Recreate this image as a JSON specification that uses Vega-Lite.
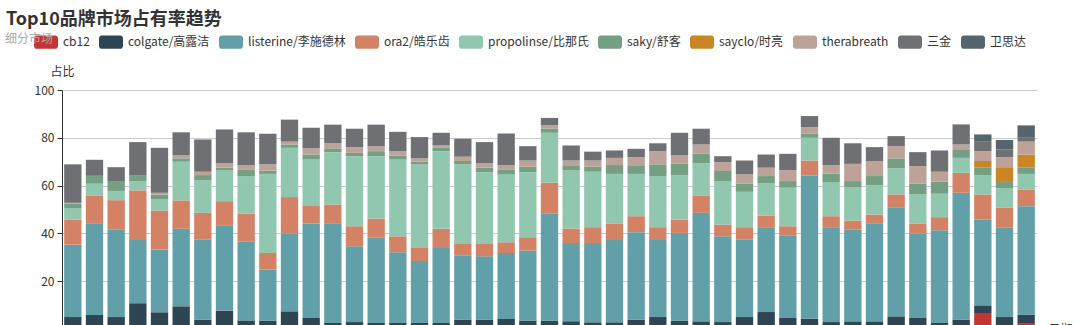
{
  "$schema": "https://vega.github.io/schema/vega-lite/v6.json",
  "width": 975,
  "height": 239,
  "autosize": {"type": "none"},
  "padding": {"left": 62, "top": 90, "right": 43, "bottom": 0},
  "background": "white",
  "title": {"text": "Top10品牌市场占有率趋势", "anchor": "start", "fontSize": 18, "fontWeight": "bold", "color": "#333", "dx": 1, "offset": 1, "font": "Noto Sans CJK SC"},
  "data": {"values": [
    {"period":"P01","cb12":0,"colgate/高露洁":5.0,"listerine/李施德林":30.3,"ora2/皓乐齿":10.5,"propolinse/比那氏":4.6,"saky/舒客":2.0,"sayclo/时亮":0,"therabreath":0.4,"三金":16.1,"卫思达":0},
    {"period":"P02","cb12":0,"colgate/高露洁":5.9,"listerine/李施德林":38.1,"ora2/皓乐齿":11.9,"propolinse/比那氏":4.9,"saky/舒客":3.3,"sayclo/时亮":0,"therabreath":0,"三金":6.7,"卫思达":0},
    {"period":"P03","cb12":0,"colgate/高露洁":5.0,"listerine/李施德林":36.6,"ora2/皓乐齿":12.3,"propolinse/比那氏":3.8,"saky/舒客":4.2,"sayclo/时亮":0,"therabreath":0,"三金":5.8,"卫思达":0},
    {"period":"P04","cb12":0,"colgate/高露洁":10.8,"listerine/李施德林":26.4,"ora2/皓乐齿":20.8,"propolinse/比那氏":3.9,"saky/舒客":2.5,"sayclo/时亮":0,"therabreath":0,"三金":13.8,"卫思达":0},
    {"period":"P05","cb12":0,"colgate/高露洁":7.0,"listerine/李施德林":26.2,"ora2/皓乐齿":16.4,"propolinse/比那氏":4.6,"saky/舒客":2.0,"sayclo/时亮":0,"therabreath":0.8,"三金":18.8,"卫思达":0},
    {"period":"P06","cb12":0,"colgate/高露洁":9.5,"listerine/李施德林":32.5,"ora2/皓乐齿":11.8,"propolinse/比那氏":16.2,"saky/舒客":1.4,"sayclo/时亮":0,"therabreath":1.4,"三金":9.5,"卫思达":0},
    {"period":"P07","cb12":0,"colgate/高露洁":3.9,"listerine/李施德林":33.5,"ora2/皓乐齿":11.2,"propolinse/比那氏":13.6,"saky/舒客":2.2,"sayclo/时亮":0,"therabreath":1.4,"三金":13.5,"卫思达":0},
    {"period":"P08","cb12":0,"colgate/高露洁":7.7,"listerine/李施德林":35.7,"ora2/皓乐齿":10.1,"propolinse/比那氏":12.8,"saky/舒客":1.2,"sayclo/时亮":0,"therabreath":1.8,"三金":14.2,"卫思达":0},
    {"period":"P09","cb12":0,"colgate/高露洁":3.6,"listerine/李施德林":32.9,"ora2/皓乐齿":11.7,"propolinse/比那氏":15.8,"saky/舒客":2.8,"sayclo/时亮":0,"therabreath":1.8,"三金":13.7,"卫思达":0},
    {"period":"P10","cb12":0,"colgate/高露洁":3.5,"listerine/李施德林":21.4,"ora2/皓乐齿":6.9,"propolinse/比那氏":33.1,"saky/舒客":1.4,"sayclo/时亮":0,"therabreath":2.6,"三金":12.8,"卫思达":0},
    {"period":"P11","cb12":0,"colgate/高露洁":7.4,"listerine/李施德林":32.4,"ora2/皓乐齿":15.4,"propolinse/比那氏":20.6,"saky/舒客":1.4,"sayclo/时亮":0,"therabreath":1.2,"三金":9.2,"卫思达":0},
    {"period":"P12","cb12":0,"colgate/高露洁":4.6,"listerine/李施德林":39.5,"ora2/皓乐齿":7.7,"propolinse/比那氏":19.1,"saky/舒客":2.1,"sayclo/时亮":0,"therabreath":2.6,"三金":8.6,"卫思达":0},
    {"period":"P13","cb12":0,"colgate/高露洁":2.5,"listerine/李施德林":41.5,"ora2/皓乐齿":8.1,"propolinse/比那氏":21.9,"saky/舒客":1.6,"sayclo/时亮":0,"therabreath":2.2,"三金":7.7,"卫思达":0},
    {"period":"P14","cb12":0,"colgate/高露洁":2.9,"listerine/李施德林":31.7,"ora2/皓乐齿":8.4,"propolinse/比那氏":29.3,"saky/舒客":1.4,"sayclo/时亮":0,"therabreath":2.4,"三金":7.7,"卫思达":0},
    {"period":"P15","cb12":0,"colgate/高露洁":2.5,"listerine/李施德林":35.9,"ora2/皓乐齿":7.8,"propolinse/比那氏":26.1,"saky/舒客":2.1,"sayclo/时亮":0,"therabreath":2.1,"三金":9.0,"卫思达":0},
    {"period":"P16","cb12":0,"colgate/高露洁":2.5,"listerine/李施德林":29.6,"ora2/皓乐齿":6.7,"propolinse/比那氏":32.1,"saky/舒客":1.7,"sayclo/时亮":0,"therabreath":1.8,"三金":8.1,"卫思达":0},
    {"period":"P17","cb12":0,"colgate/高露洁":2.5,"listerine/李施德林":25.9,"ora2/皓乐齿":5.5,"propolinse/比那氏":35.0,"saky/舒客":1.1,"sayclo/时亮":0,"therabreath":1.4,"三金":8.9,"卫思达":0},
    {"period":"P18","cb12":0,"colgate/高露洁":2.5,"listerine/李施德林":31.4,"ora2/皓乐齿":8.0,"propolinse/比那氏":32.5,"saky/舒客":1.4,"sayclo/时亮":0,"therabreath":1.0,"三金":5.3,"卫思达":0},
    {"period":"P19","cb12":0,"colgate/高露洁":3.9,"listerine/李施德林":27.0,"ora2/皓乐齿":4.7,"propolinse/比那氏":33.3,"saky/舒客":1.4,"sayclo/时亮":0,"therabreath":1.8,"三金":7.5,"卫思达":0},
    {"period":"P20","cb12":0,"colgate/高露洁":3.9,"listerine/李施德林":26.5,"ora2/皓乐齿":5.2,"propolinse/比那氏":30.0,"saky/舒客":1.9,"sayclo/时亮":0,"therabreath":1.8,"三金":8.9,"卫思达":0},
    {"period":"P21","cb12":0,"colgate/高露洁":4.2,"listerine/李施德林":27.6,"ora2/皓乐齿":4.5,"propolinse/比那氏":28.4,"saky/舒客":2.1,"sayclo/时亮":0,"therabreath":1.8,"三金":13.2,"卫思达":0},
    {"period":"P22","cb12":0,"colgate/高露洁":3.5,"listerine/李施德林":29.3,"ora2/皓乐齿":5.6,"propolinse/比那氏":27.2,"saky/舒客":2.3,"sayclo/时亮":0,"therabreath":2.6,"三金":6.0,"卫思达":0},
    {"period":"P23","cb12":0,"colgate/高露洁":3.5,"listerine/李施德林":44.7,"ora2/皓乐齿":13.0,"propolinse/比那氏":20.9,"saky/舒客":1.8,"sayclo/时亮":0,"therabreath":1.4,"三金":3.0,"卫思达":0},
    {"period":"P24","cb12":0,"colgate/高露洁":3.2,"listerine/李施德林":32.8,"ora2/皓乐齿":6.0,"propolinse/比那氏":24.3,"saky/舒客":1.9,"sayclo/时亮":0,"therabreath":2.3,"三金":6.3,"卫思达":0},
    {"period":"P25","cb12":0,"colgate/高露洁":2.8,"listerine/李施德林":33.2,"ora2/皓乐齿":6.6,"propolinse/比那氏":23.2,"saky/舒客":2.1,"sayclo/时亮":0,"therabreath":2.6,"三金":3.7,"卫思达":0},
    {"period":"P26","cb12":0,"colgate/高露洁":2.8,"listerine/李施德林":34.4,"ora2/皓乐齿":6.8,"propolinse/比那氏":20.9,"saky/舒客":3.7,"sayclo/时亮":0,"therabreath":3.0,"三金":3.1,"卫思达":0},
    {"period":"P27","cb12":0,"colgate/高露洁":3.9,"listerine/李施德林":36.6,"ora2/皓乐齿":6.7,"propolinse/比那氏":17.7,"saky/舒客":3.3,"sayclo/时亮":0,"therabreath":3.7,"三金":3.5,"卫思达":0},
    {"period":"P28","cb12":0,"colgate/高露洁":5.0,"listerine/李施德林":32.2,"ora2/皓乐齿":5.4,"propolinse/比那氏":21.4,"saky/舒客":4.9,"sayclo/时亮":0,"therabreath":5.5,"三金":3.3,"卫思达":0},
    {"period":"P29","cb12":0,"colgate/高露洁":3.5,"listerine/李施德林":36.7,"ora2/皓乐齿":5.6,"propolinse/比那氏":18.6,"saky/舒客":4.9,"sayclo/时亮":0,"therabreath":3.5,"三金":9.3,"卫思达":0},
    {"period":"P30","cb12":0,"colgate/高露洁":3.2,"listerine/李施德林":45.4,"ora2/皓乐齿":7.3,"propolinse/比那氏":13.4,"saky/舒客":4.0,"sayclo/时亮":0,"therabreath":3.9,"三金":6.6,"卫思达":0},
    {"period":"P31","cb12":0,"colgate/高露洁":2.9,"listerine/李施德林":35.9,"ora2/皓乐齿":4.9,"propolinse/比那氏":18.2,"saky/舒客":4.2,"sayclo/时亮":0,"therabreath":3.7,"三金":2.5,"卫思达":0},
    {"period":"P32","cb12":0,"colgate/高露洁":5.0,"listerine/李施德林":32.4,"ora2/皓乐齿":5.2,"propolinse/比那氏":14.8,"saky/舒客":3.5,"sayclo/时亮":0,"therabreath":3.8,"三金":5.8,"卫思达":0},
    {"period":"P33","cb12":0,"colgate/高露洁":7.1,"listerine/李施德林":35.2,"ora2/皓乐齿":5.2,"propolinse/比那氏":13.4,"saky/舒客":3.1,"sayclo/时亮":0,"therabreath":3.5,"三金":5.5,"卫思达":0},
    {"period":"P34","cb12":0,"colgate/高露洁":4.6,"listerine/李施德林":34.6,"ora2/皓乐齿":3.8,"propolinse/比那氏":16.1,"saky/舒客":2.8,"sayclo/时亮":0,"therabreath":4.6,"三金":6.8,"卫思达":0},
    {"period":"P35","cb12":0,"colgate/高露洁":4.3,"listerine/李施德林":59.9,"ora2/皓乐齿":6.3,"propolinse/比那氏":9.5,"saky/舒客":1.8,"sayclo/时亮":0,"therabreath":2.7,"三金":4.6,"卫思达":0},
    {"period":"P36","cb12":0,"colgate/高露洁":2.9,"listerine/李施德林":39.4,"ora2/皓乐齿":4.9,"propolinse/比那氏":14.3,"saky/舒客":3.5,"sayclo/时亮":0,"therabreath":3.6,"三金":11.4,"卫思达":0},
    {"period":"P37","cb12":0,"colgate/高露洁":3.2,"listerine/李施德林":38.4,"ora2/皓乐齿":3.8,"propolinse/比那氏":14.0,"saky/舒客":2.5,"sayclo/时亮":0,"therabreath":7.2,"三金":8.6,"卫思达":0},
    {"period":"P38","cb12":0,"colgate/高露洁":3.2,"listerine/李施德林":40.8,"ora2/皓乐齿":3.9,"propolinse/比那氏":12.3,"saky/舒客":3.8,"sayclo/时亮":0,"therabreath":6.3,"三金":5.8,"卫思达":0},
    {"period":"P39","cb12":0,"colgate/高露洁":5.3,"listerine/李施德林":45.4,"ora2/皓乐齿":5.6,"propolinse/比那氏":10.9,"saky/舒客":4.2,"sayclo/时亮":0,"therabreath":5.1,"三金":4.2,"卫思达":0},
    {"period":"P40","cb12":0,"colgate/高露洁":4.6,"listerine/李施德林":35.3,"ora2/皓乐齿":4.1,"propolinse/比那氏":12.3,"saky/舒客":4.6,"sayclo/时亮":0,"therabreath":7.3,"三金":5.8,"卫思达":0},
    {"period":"P41","cb12":0,"colgate/高露洁":2.5,"listerine/李施德林":38.8,"ora2/皓乐齿":5.5,"propolinse/比那氏":9.8,"saky/舒客":5.0,"sayclo/时亮":0,"therabreath":4.2,"三金":8.9,"卫思达":0},
    {"period":"P42","cb12":0,"colgate/高露洁":3.9,"listerine/李施德林":53.1,"ora2/皓乐齿":8.4,"propolinse/比那氏":6.2,"saky/舒客":3.3,"sayclo/时亮":0,"therabreath":2.3,"三金":8.4,"卫思达":0},
    {"period":"P43","cb12":6.7,"colgate/高露洁":3.2,"listerine/李施德林":35.9,"ora2/皓乐齿":10.5,"propolinse/比那氏":8.1,"saky/舒客":3.1,"sayclo/时亮":2.8,"therabreath":4.1,"三金":4.2,"卫思达":2.8},
    {"period":"P44","cb12":0,"colgate/高露洁":5.0,"listerine/李施德林":37.6,"ora2/皓乐齿":8.1,"propolinse/比那氏":8.1,"saky/舒客":3.1,"sayclo/时亮":5.8,"therabreath":4.2,"三金":3.2,"卫思达":4.0},
    {"period":"P45","cb12":2.5,"colgate/高露洁":3.5,"listerine/李施德林":45.4,"ora2/皓乐齿":7.0,"propolinse/比那氏":6.5,"saky/舒客":2.6,"sayclo/时亮":5.5,"therabreath":5.4,"三金":1.6,"卫思达":5.2}
  ]},
  "transform": [
    {"fold": ["cb12","colgate/高露洁","listerine/李施德林","ora2/皓乐齿","propolinse/比那氏","saky/舒客","sayclo/时亮","therabreath","三金","卫思达"], "as": ["brand","share"]}
  ],
  "mark": {"type": "bar"},
  "encoding": {
    "x": {"field": "period", "type": "ordinal", "sort": null,
      "scale": {"paddingInner": 0.2, "paddingOuter": 0.1},
      "axis": {"labels": false, "ticks": false, "domain": true, "domainColor": "#333", "title": "日期", "titleX": 986, "titleY": 0, "titleAlign": "left", "titleBaseline": "middle", "titleFontWeight": "normal", "titleFontSize": 12, "titleColor": "#333", "titleFont": "Noto Sans CJK SC"}},
    "y": {"field": "share", "type": "quantitative", "stack": "zero",
      "scale": {"domain": [0, 100], "nice": false},
      "axis": {"values": [0, 20, 40, 60, 80, 100], "title": "占比", "titleAngle": 0, "titleX": 0, "titleY": -19, "titleAlign": "center", "titleBaseline": "middle", "titleFontWeight": "normal", "titleFontSize": 12, "titleColor": "#333", "titleFont": "Noto Sans CJK SC",
        "domainColor": "#333", "tickColor": "#333", "tickSize": 5, "labelPadding": 3, "labelColor": "#333", "labelFontSize": 12, "labelFont": "Noto Sans CJK SC", "grid": true, "gridColor": "#ccc"}},
    "color": {"field": "brand", "type": "nominal",
      "scale": {"domain": ["cb12","colgate/高露洁","listerine/李施德林","ora2/皓乐齿","propolinse/比那氏","saky/舒客","sayclo/时亮","therabreath","三金","卫思达"],
                "range": ["#c23531","#2f4554","#61a0a8","#d48265","#91c7ae","#749f83","#ca8622","#bda29a","#6e7074","#546570"]},
      "legend": {"orient": "none", "legendX": -57, "legendY": -60, "direction": "horizontal", "columns": 10, "title": "细分市场", "titleOrient": "left", "titleColor": "#aaa", "titleFontSize": 12, "titleFontWeight": "normal", "titleFont": "Noto Sans CJK SC", "titlePadding": -20,
        "symbolType": "M-0.76,-0.56 H0.76 A0.24,0.24 0 0 1 1,-0.32 V0.32 A0.24,0.24 0 0 1 0.76,0.56 H-0.76 A0.24,0.24 0 0 1 -1,0.32 V-0.32 A0.24,0.24 0 0 1 -0.76,-0.56 Z",
        "symbolSize": 576, "symbolStrokeWidth": 0, "symbolOpacity": 1, "labelFontSize": 12, "labelColor": "#333", "labelFont": "Noto Sans CJK SC", "labelOffset": 5, "columnPadding": 9, "padding": 0}},
    "order": {"field": "brand", "type": "nominal", "sort": "ascending"}
  },
  "config": {"view": {"stroke": null}, "font": "Noto Sans CJK SC"}
}
